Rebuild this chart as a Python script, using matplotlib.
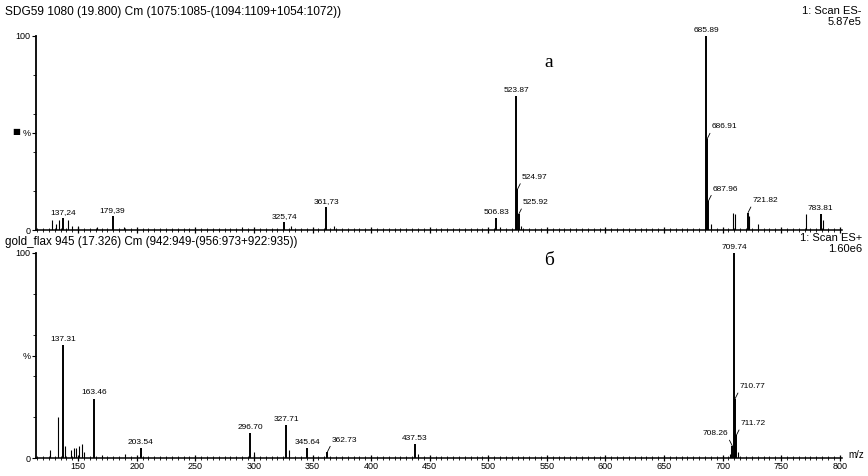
import matplotlib
matplotlib.use('Agg')
import matplotlib.pyplot as plt
from matplotlib.ticker import MultipleLocator

# Spektrum a (oben), ES-
mz_a = [137.24, 179.39, 325.74, 361.73, 506.83, 523.87, 524.97, 525.92,
        685.89, 686.91, 687.96, 721.82, 783.81]
int_a = [6, 7, 4, 12, 6, 69, 21, 8, 100, 47, 15, 9, 8]
lab_a = ['137,24', '179,39', '325,74', '361,73', '506.83', '523.87', '524.97',
         '525.92', '685.89', '686.91', '687.96', '721.82', '783.81']
# kleine Peaks ohne Beschriftung
mz_a2 = [128, 131, 134, 141, 145, 150, 166, 189, 290, 332, 368, 510, 528,
         690, 709, 711, 723, 730, 771, 786]
int_a2 = [5, 3, 5, 5, 2, 2, 1.5, 1.5, 1.5, 2, 2, 1.5, 2,
          3, 9, 8, 7, 3, 8, 5]

# Spektrum b (unten), ES+
mz_b = [137.31, 163.46, 203.54, 296.70, 327.71, 345.64, 362.73, 437.53,
        708.26, 709.74, 710.77, 711.72]
int_b = [55, 29, 5, 12, 16, 5, 3, 7, 6, 100, 29, 11]
lab_b = ['137.31', '163.46', '203.54', '296.70', '327.71', '345.64', '362.73',
         '437.53', '708.26', '709.74', '710.77', '711.72']
mz_b2 = [126, 133, 139, 144, 146, 148, 151, 153, 155, 170, 190, 300, 330,
         440, 706, 713]
int_b2 = [4, 20, 6, 4, 5, 5, 6, 7, 3, 1.5, 2, 3, 4, 2, 2, 3]

title_a = 'SDG59 1080 (19.800) Cm (1075:1085-(1094:1109+1054:1072))'
title_b = 'gold_flax 945 (17.326) Cm (942:949-(956:973+922:935))'
scan_a = ['1: Scan ES-', '5.87e5']
scan_b = ['1: Scan ES+', '1.60e6']

# Beschriftungsart: c = zentriert, r = rechts mit Linie, l = links mit Linie
style_a = ['c', 'c', 'c', 'c', 'c', 'c', 'r', 'r', 'c', 'r', 'r', 'r', 'c']
style_b = ['c', 'c', 'c', 'c', 'c', 'c', 'r', 'c', 'l', 'c', 'r', 'r']

fam = 'Liberation Sans'


def draw_spec(ax, mz, inten, labs, styles, mz2, int2, show_xlab):
    ax.vlines(mz2, 0, int2, color='k', lw=0.8)
    ax.vlines(mz, 0, inten, color='k', lw=1.4)
    for m, h, t, s in zip(mz, inten, labs, styles):
        if s == 'c':
            ax.annotate(t, (m, h), xytext=(0, 1.5), textcoords='offset points',
                        ha='center', va='bottom', fontsize=6, family=fam,
                        annotation_clip=False)
        else:
            dx = 3 if s == 'r' else -3
            ax.annotate(t, (m, h), xytext=(dx, 6), textcoords='offset points',
                        ha='left' if s == 'r' else 'right', va='bottom',
                        fontsize=6, family=fam, annotation_clip=False,
                        arrowprops=dict(arrowstyle='-', lw=0.6, color='k',
                                        shrinkA=0, shrinkB=0,
                                        relpos=(0, 0) if s == 'r' else (1, 0)))
    ax.set_xlim(114, 802)
    ax.set_ylim(0, 100)
    for sp in ['top', 'right']:
        ax.spines[sp].set_visible(False)
    ax.spines['left'].set_linewidth(1.3)
    ax.spines['bottom'].set_linewidth(1.1)
    ax.xaxis.set_major_locator(MultipleLocator(50))
    ax.xaxis.set_minor_locator(MultipleLocator(5))
    ax.tick_params(axis='x', which='major', direction='inout', length=5, width=0.9, pad=0.5)
    ax.tick_params(axis='x', which='minor', direction='inout', length=3, width=0.6)
    ax.set_yticks([0, 50, 100])
    ax.set_yticklabels(['0', '%', '100'], family=fam, fontsize=6.5)
    ax.yaxis.set_minor_locator(MultipleLocator(20))
    ax.tick_params(axis='y', which='major', direction='out', length=3, width=0.8, pad=1)
    ax.tick_params(axis='y', which='minor', direction='out', length=2, width=0.6)
    if show_xlab:
        ax.set_xticklabels([str(int(v)) for v in ax.get_xticks()], family=fam, fontsize=6.5)
    else:
        ax.set_xticklabels([])


fig = plt.figure(figsize=(8.68, 4.76), dpi=100)
ax1 = fig.add_axes([0.0415, 0.5168, 0.9286, 0.4076])
ax2 = fig.add_axes([0.0415, 0.0378, 0.9286, 0.4307])
draw_spec(ax1, mz_a, int_a, lab_a, style_a, mz_a2, int_a2, False)
draw_spec(ax2, mz_b, int_b, lab_b, style_b, mz_b2, int_b2, True)

fig.text(0.006, 0.974, title_a, fontsize=8.6, family=fam, va='center')
fig.text(0.006, 0.4916, title_b, fontsize=8.4, family=fam, va='center')
fig.text(0.993, 0.976, scan_a[0], fontsize=8, family=fam, va='center', ha='right')
fig.text(0.993, 0.954, scan_a[1], fontsize=8, family=fam, va='center', ha='right')
fig.text(0.993, 0.499, scan_b[0], fontsize=8, family=fam, va='center', ha='right')
fig.text(0.993, 0.477, scan_b[1], fontsize=8, family=fam, va='center', ha='right')
fig.text(0.014, 0.723, '\u25a0', fontsize=6, family='DejaVu Sans', va='center')
fig.text(0.632, 0.868, 'a', fontsize=14, family='Liberation Serif', ha='center', va='center')
fig.text(0.632, 0.452, '\u0431', fontsize=14, family='Liberation Serif', ha='center', va='center')
fig.text(0.986, 0.044, 'm/z', fontsize=7, family=fam, ha='center', va='center')

fig.savefig('out.png', dpi=100)
